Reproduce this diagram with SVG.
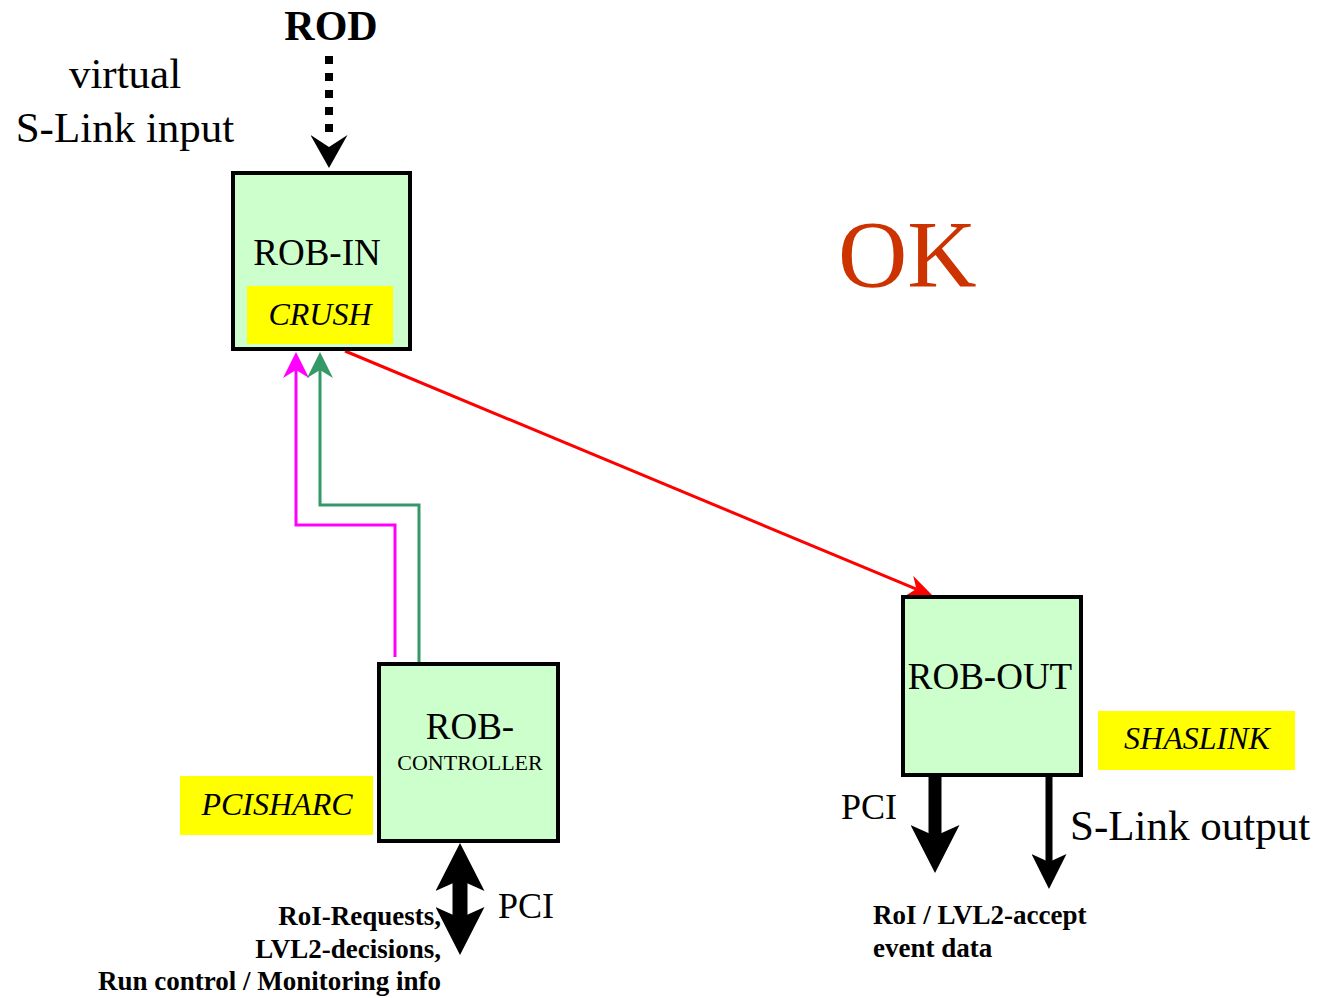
<svg xmlns="http://www.w3.org/2000/svg" width="1317" height="998" viewBox="0 0 1317 998">
<style>
.box{fill:#CCFFCC;stroke:#000;stroke-width:4}
.tag{fill:#FFFF00}
.t{font-family:"Liberation Serif","Times New Roman",serif;fill:#000}
.lbl{font-size:37px;text-anchor:middle}
.it{font-size:32px;font-style:italic;text-anchor:middle}
.b{font-size:27px;font-weight:bold}
.big{font-size:43px}
.pci{font-size:36px}
.thin{fill:none;stroke-width:3}
</style>
<defs>
<marker id="hm" markerUnits="userSpaceOnUse" viewBox="0 -13 26 26" refX="8" refY="0" markerWidth="26" markerHeight="26" orient="auto"><path d="M0,-13 L26,0 L0,13 L8,0 Z" fill="#FF00FF"/></marker>
<marker id="hg" markerUnits="userSpaceOnUse" viewBox="0 -13 26 26" refX="8" refY="0" markerWidth="26" markerHeight="26" orient="auto"><path d="M0,-13 L26,0 L0,13 L8,0 Z" fill="#339966"/></marker>
<marker id="hr" markerUnits="userSpaceOnUse" viewBox="0 -11 26 22" refX="8" refY="0" markerWidth="26" markerHeight="22" orient="auto"><path d="M0,-11 L26,0 L0,11 L8,0 Z" fill="#FF0000"/></marker>
<marker id="hb" markerUnits="userSpaceOnUse" viewBox="0 -24.5 48 49" refX="11" refY="0" markerWidth="48" markerHeight="49" orient="auto-start-reverse"><path d="M0,-24.5 L48,0 L0,24.5 L11,0 Z" fill="#000"/></marker>
<marker id="hs" markerUnits="userSpaceOnUse" viewBox="0 -17.5 35 35" refX="8" refY="0" markerWidth="35" markerHeight="35" orient="auto"><path d="M0,-17.5 L35,0 L0,17.5 L8,0 Z" fill="#000"/></marker>
<marker id="hd" markerUnits="userSpaceOnUse" viewBox="0 -18.5 33 37" refX="-2" refY="0" markerWidth="33" markerHeight="37" orient="auto"><path d="M0,-18.5 L33,0 L0,18.5 L12,0 Z" fill="#000"/></marker>
</defs>
<rect width="1317" height="998" fill="#fff"/>

<g id="connectors">
<path d="M329,56 L329,133" fill="none" stroke="#000" stroke-width="8" stroke-dasharray="8 9" marker-end="url(#hd)"/>
<path class="thin" d="M395,657 L395,525 L296,525 L296,370" stroke="#FF00FF" marker-end="url(#hm)"/>
<path class="thin" d="M419,662 L419,505 L320,505 L320,370" stroke="#339966" marker-end="url(#hg)"/>
<path class="thin" d="M345,351 L916.4,589.1" stroke="#FF0000" marker-end="url(#hr)"/>
<path d="M460,880 L460,918" stroke="#000" stroke-width="15" marker-start="url(#hb)" marker-end="url(#hb)"/>
<path d="M935,777 L935,836" stroke="#000" stroke-width="13" marker-end="url(#hb)"/>
<path d="M1049,777 L1049,862" stroke="#000" stroke-width="7" marker-end="url(#hs)"/>
</g>

<g id="labels">
<text class="t" x="331" y="40" font-size="42" font-weight="bold" text-anchor="middle">ROD</text>
<text class="t big" x="125" y="88" text-anchor="middle">virtual</text>
<text class="t big" x="125" y="142" text-anchor="middle">S-Link input</text>
<text x="838" y="287" font-family="Liberation Serif, Times New Roman, serif" font-size="96" fill="#CC3300">OK</text>
</g>

<g id="rob-in">
<rect class="box" x="233" y="173" width="177" height="176"/>
<text class="t lbl" x="317" y="265">ROB-IN</text>
<rect class="tag" x="247" y="286" width="146" height="58"/>
<text class="t it" x="320" y="325">CRUSH</text>
</g>

<g id="rob-controller">
<rect class="box" x="379" y="664" width="179" height="177"/>
<text class="t lbl" x="470" y="739">ROB-</text>
<text class="t" x="470" y="770" font-size="22" text-anchor="middle">CONTROLLER</text>
</g>

<g id="pcisharc">
<rect class="tag" x="180" y="776" width="193" height="59"/>
<text class="t it" x="277" y="815">PCISHARC</text>
</g>

<g id="ctrl-io">
<text class="t pci" x="498" y="918">PCI</text>
<text class="t b" x="441" y="925" text-anchor="end">RoI-Requests,</text>
<text class="t b" x="441" y="958" text-anchor="end">LVL2-decisions,</text>
<text class="t b" x="441" y="990" text-anchor="end">Run control / Monitoring info</text>
</g>

<g id="rob-out">
<rect class="box" x="903" y="597" width="178" height="178"/>
<text class="t lbl" x="990" y="689">ROB-OUT</text>
</g>

<g id="shaslink">
<rect class="tag" x="1098" y="711" width="197" height="59"/>
<text class="t it" x="1197" y="749">SHASLINK</text>
</g>

<g id="out-io">
<text class="t pci" x="841" y="819">PCI</text>
<text class="t big" x="1070" y="840">S-Link output</text>
<text class="t b" x="873" y="924">RoI / LVL2-accept</text>
<text class="t b" x="873" y="957">event data</text>
</g>
</svg>
